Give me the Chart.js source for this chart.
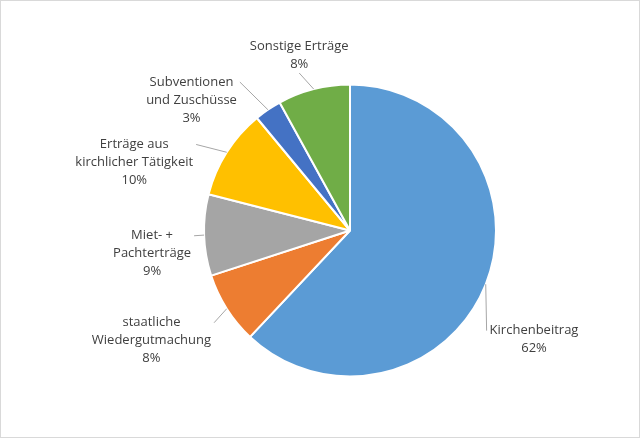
<!DOCTYPE html>
<html><head><meta charset="utf-8">
<script src="https://cdn.jsdelivr.net/npm/chart.js@4"></script>
<style>html,body{margin:0;padding:0;background:#fff}#w{width:638px;height:436px;border:1px solid #d9d9d9;position:relative}</style>
</head><body><div id="w"><canvas id="c"></canvas></div>
<script>
const categories=[["Kirchenbeitrag"],["staatliche","Wiedergutmachung"],["Miet- +","Pachterträge"],["Erträge aus","kirchlicher Tätigkeit"],["Subventionen","und Zuschüsse"],["Sonstige Erträge"]];
const values=[62,8,9,10,3,8];
const colors=["#5B9BD5","#ED7D31","#A5A5A5","#FFC000","#4472C4","#70AD47"];
const labelPlugin={id:'lbl',afterDatasetsDraw(chart){
 const ctx=chart.ctx;const meta=chart.getDatasetMeta(0);
 ctx.save();ctx.font='13px "Open Sans", sans-serif';ctx.fillStyle='#404040';ctx.strokeStyle='#a6a6a6';ctx.lineWidth=1;
 const off=[[40,0.25,-11,0],[28,0,8,17],[22,0,9,18],[22,0,-15,22],[25,0,-17,11],[30,0,-7,13]];
 meta.data.forEach((arc,i)=>{
  const a=(arc.startAngle+arc.endAngle)/2,r=arc.outerRadius,cx=arc.x,cy=arc.y;
  const lines=[...categories[i],values[i]+'%'];
  const o=off[i];const d=r+o[0];const aa=a+o[1];
  let lx=cx+Math.cos(aa)*d,ly=cy+Math.sin(aa)*d;
  const cos=Math.cos(aa);
  const w=Math.max(...lines.map(t=>ctx.measureText(t).width));
  const lh=18,h=lines.length*lh;
  let bx=lx,by=ly;
  if(Math.abs(cos)<0.3){by=ly-h/2;}else if(cos>0){bx=lx+w/2;}else{bx=lx-w/2;}
  bx+=o[2];by+=o[3];
  ctx.textAlign='center';ctx.textBaseline='middle';
  lines.forEach((t,k)=>ctx.fillText(t,bx,by-h/2+lh/2+k*lh));
  const ex=Math.abs(cos)<0.3?bx:(cos>0?bx-w/2-3:bx+w/2+3);
  const ey=Math.abs(cos)<0.3?by+h/2:by-h/2+lh/2;
  ctx.beginPath();ctx.moveTo(cx+Math.cos(a)*r,cy+Math.sin(a)*r);
  ctx.lineTo(ex,ey);ctx.stroke();
 });ctx.restore();}};
new Chart(document.getElementById('c'),{type:'pie',
 data:{labels:categories.map(c=>c.join(' ')),datasets:[{data:values,backgroundColor:colors,borderColor:'#fff',borderWidth:2}]},
 options:{responsive:true,maintainAspectRatio:false,animation:false,
  layout:{padding:{top:82,bottom:59,left:202,right:142}},
  plugins:{legend:{display:false},tooltip:{enabled:false}}},
 plugins:[labelPlugin]});
</script></body></html>
